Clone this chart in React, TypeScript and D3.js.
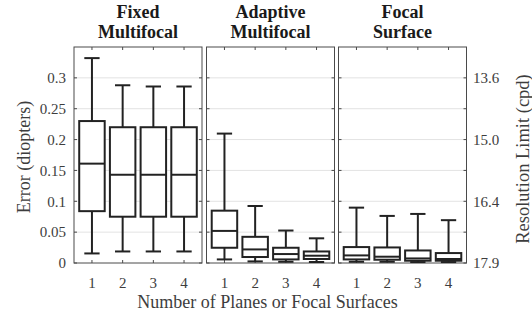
import React, { useEffect, useRef } from 'react';
import * as d3 from 'd3';

const panelTitles = [['Fixed', 'Multifocal'], ['Adaptive', 'Multifocal'], ['Focal', 'Surface']];
const categories = ['1', '2', '3', '4'];

// per panel, per category: [min, q1, median, q3, max]
const fixedStats = [
  [0.0155, 0.084, 0.161, 0.23, 0.332],
  [0.0187, 0.075, 0.143, 0.22, 0.288],
  [0.0187, 0.075, 0.143, 0.22, 0.286],
  [0.0187, 0.075, 0.143, 0.22, 0.286],
];
const adaptiveStats = [
  [0.0058, 0.0247, 0.052, 0.0848, 0.2097],
  [0.0026, 0.0097, 0.022, 0.0424, 0.0924],
  [0.002, 0.0058, 0.0145, 0.0247, 0.0526],
  [0.0016, 0.0065, 0.0118, 0.0187, 0.04],
];
const focalStats = [
  [0.002, 0.0058, 0.0123, 0.0258, 0.0897],
  [0.002, 0.0053, 0.0102, 0.0252, 0.0763],
  [0.0015, 0.0037, 0.0074, 0.0203, 0.0795],
  [0.0015, 0.0037, 0.0065, 0.0161, 0.0694],
];
const leftTicks = [0, 0.05, 0.1, 0.15, 0.2, 0.25, 0.3];
const rightTickValues = [0, 0.1, 0.2, 0.3];
const rightTickLabels = ['17.9', '16.4', '15.0', '13.6'];

const App: React.FC = () => {
  const svgRef = useRef<SVGSVGElement>(null);

  useEffect(() => {
    if (!svgRef.current) return;
    const svg = d3.select(svgRef.current);
    svg.selectAll('*').remove();

    const font = '"Liberation Serif", "Times New Roman", serif';
    const top = 47, bottom = 263;
    const panelX = [74, 206.5, 338.5];
    const panelW = 128;
    const y = d3.scaleLinear().domain([0, 0.35]).range([bottom, top]);
    const allStats = [fixedStats, adaptiveStats, focalStats];
    const axisCol = '#4a4a4a';
    const textCol = '#3d3d3d';

    allStats.forEach((stats, p) => {
      const x = d3.scaleBand().domain(categories).range([panelX[p], panelX[p] + panelW]).padding(0.17);
      const g = svg.append('g');

      // grid
      leftTicks.slice(1).forEach(t => {
        g.append('line')
          .attr('x1', panelX[p]).attr('x2', panelX[p] + panelW)
          .attr('y1', y(t)).attr('y2', y(t))
          .attr('stroke', '#e3e3e3').attr('stroke-width', 1);
      });

      // frame
      g.append('rect')
        .attr('x', panelX[p]).attr('y', top)
        .attr('width', panelW).attr('height', bottom - top)
        .attr('fill', 'none').attr('stroke', axisCol).attr('stroke-width', 1);

      // inward ticks
      leftTicks.forEach(t => {
        g.append('line').attr('x1', panelX[p]).attr('x2', panelX[p] + 3)
          .attr('y1', y(t)).attr('y2', y(t)).attr('stroke', axisCol);
        g.append('line').attr('x1', panelX[p] + panelW).attr('x2', panelX[p] + panelW - 3)
          .attr('y1', y(t)).attr('y2', y(t)).attr('stroke', axisCol);
      });
      categories.forEach(c => {
        const cx = (x(c) as number) + x.bandwidth() / 2;
        g.append('line').attr('x1', cx).attr('x2', cx).attr('y1', top).attr('y2', top + 3).attr('stroke', axisCol);
        g.append('line').attr('x1', cx).attr('x2', cx).attr('y1', bottom).attr('y2', bottom - 3).attr('stroke', axisCol);
        g.append('text')
          .attr('x', cx).attr('y', 288)
          .attr('text-anchor', 'middle')
          .style('font-family', font).style('font-size', '15px')
          .attr('fill', textCol)
          .text(c);
      });

      // boxes
      stats.forEach((s, i) => {
        const c = categories[i];
        const bx = x(c) as number;
        const bw = x.bandwidth();
        const cx = bx + bw / 2;
        const capW = bw * 0.6;
        const [mn, q1, med, q3, mx] = s;
        const stroke = '#222';
        g.append('line').attr('x1', cx).attr('x2', cx).attr('y1', y(q3)).attr('y2', y(mx))
          .attr('stroke', stroke).attr('stroke-width', 2);
        g.append('line').attr('x1', cx).attr('x2', cx).attr('y1', y(q1)).attr('y2', y(mn))
          .attr('stroke', stroke).attr('stroke-width', 2);
        g.append('line').attr('x1', cx - capW / 2).attr('x2', cx + capW / 2).attr('y1', y(mx)).attr('y2', y(mx))
          .attr('stroke', stroke).attr('stroke-width', 2);
        g.append('line').attr('x1', cx - capW / 2).attr('x2', cx + capW / 2).attr('y1', y(mn)).attr('y2', y(mn))
          .attr('stroke', stroke).attr('stroke-width', 2);
        g.append('rect').attr('x', bx).attr('y', y(q3))
          .attr('width', bw).attr('height', y(q1) - y(q3))
          .attr('fill', 'white').attr('stroke', stroke).attr('stroke-width', 2);
        g.append('line').attr('x1', bx).attr('x2', bx + bw).attr('y1', y(med)).attr('y2', y(med))
          .attr('stroke', stroke).attr('stroke-width', 2);
      });

      // title
      const tx = panelX[p] + panelW / 2;
      panelTitles[p].forEach((line, k) => {
        svg.append('text')
          .attr('x', tx).attr('y', 18 + k * 20)
          .attr('text-anchor', 'middle')
          .style('font-family', font).style('font-size', '18px').style('font-weight', 'bold')
          .attr('fill', '#1a1a1a')
          .text(line);
      });
    });

    // left axis labels
    leftTicks.forEach(t => {
      svg.append('text')
        .attr('x', 66).attr('y', y(t)).attr('dy', '0.35em')
        .attr('text-anchor', 'end')
        .style('font-family', font).style('font-size', '15px')
        .attr('fill', textCol)
        .text(t === 0 ? '0' : String(t));
    });

    // right axis labels
    rightTickValues.forEach((t, i) => {
      svg.append('text')
        .attr('x', 473).attr('y', y(t)).attr('dy', '0.35em')
        .attr('text-anchor', 'start')
        .style('font-family', font).style('font-size', '15px')
        .attr('fill', textCol)
        .text(rightTickLabels[i]);
    });

    svg.append('text')
      .attr('transform', 'translate(30,157) rotate(-90)')
      .attr('text-anchor', 'middle')
      .style('font-family', font).style('font-size', '18px')
      .attr('fill', textCol)
      .text('Error (diopters)');

    svg.append('text')
      .attr('transform', 'translate(529,159) rotate(-90)')
      .attr('text-anchor', 'middle')
      .style('font-family', font).style('font-size', '18.5px')
      .attr('fill', textCol)
      .text('Resolution Limit (cpd)');

    svg.append('text')
      .attr('x', 267.5).attr('y', 308)
      .attr('text-anchor', 'middle')
      .style('font-family', font).style('font-size', '18px')
      .attr('fill', textCol)
      .text('Number of Planes or Focal Surfaces');
  }, []);

  return (
    <svg
      ref={svgRef}
      width={532}
      height={318}
      style={{ position: 'absolute', left: 0, top: 0, background: 'white' }}
    />
  );
};

export default App;
